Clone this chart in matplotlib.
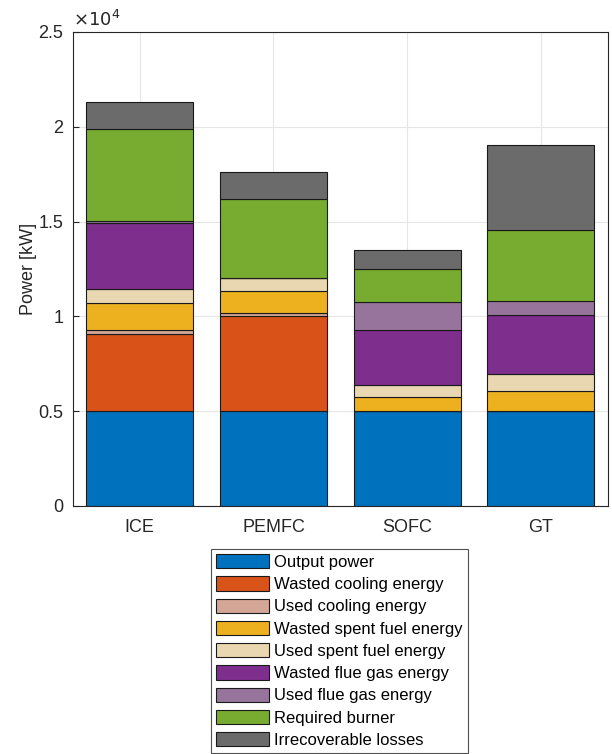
import matplotlib.pyplot as plt
import numpy as np

plt.rcParams['font.family'] = ['Liberation Sans', 'DejaVu Sans']

# categorias y valores [kW]
systems = ['ICE', 'PEMFC', 'SOFC', 'GT']
labels = ['Output power', 'Wasted cooling energy', 'Used cooling energy',
          'Wasted spent fuel energy', 'Used spent fuel energy',
          'Wasted flue gas energy', 'Used flue gas energy',
          'Required burner', 'Irrecoverable losses']

output_power = [5000, 5000, 5000, 5000]
wasted_cooling = [4050, 5040, 0, 0]
used_cooling = [230, 160, 0, 0]
wasted_spent_fuel = [1410, 1140, 750, 1070]
used_spent_fuel = [760, 670, 620, 880]
wasted_flue_gas = [3460, 0, 2900, 3110]
used_flue_gas = [140, 0, 1490, 750]
required_burner = [4830, 4170, 1720, 3750]
irrecoverable = [1440, 1420, 1020, 4480]

colors = ['#0072BD', '#D95319', '#D4A696', '#EDB120', '#E8D7B0',
          '#7E2F8E', '#97749C', '#77AC30', '#6B6B6B']

series = [output_power, wasted_cooling, used_cooling, wasted_spent_fuel,
          used_spent_fuel, wasted_flue_gas, used_flue_gas, required_burner,
          irrecoverable]

fig = plt.figure(figsize=(6.12, 7.54), dpi=100)
ax = fig.add_axes([73/612, 1 - 506/754, (607.5 - 73)/612, (506 - 32)/754])

x = np.arange(1, len(systems) + 1)
bottom = np.zeros(len(systems))
handles = []
for vals, lab, col in zip(series, labels, colors):
    vals = np.array(vals, dtype=float)
    h = ax.bar(x, vals, 0.8, bottom=bottom, color=col, edgecolor='#1a1a1a',
               linewidth=0.8, label=lab, zorder=3)
    handles.append(h)
    bottom += vals

ax.set_xlim(0.5, 4.5)
ax.set_ylim(0, 25000)
ax.set_xticks(x)
ax.set_xticklabels(systems)
ax.set_yticks([0, 5000, 10000, 15000, 20000, 25000])
ax.set_yticklabels(['0', '0.5', '1', '1.5', '2', '2.5'])
ax.text(0, 1.004, r'$\times 10^4$', transform=ax.transAxes, fontsize=13,
        color='#262626', va='bottom', ha='left')
ax.set_ylabel('Power [kW]', fontsize=13, color='#262626', labelpad=1)

ax.grid(True, color='#e6e6e6', linewidth=0.8, zorder=0)
ax.tick_params(direction='in', labelsize=13, colors='#262626', length=4,
               top=False, right=False)
ax.tick_params(axis='x', pad=9)
ax.tick_params(axis='y', pad=7)
for sp in ax.spines.values():
    sp.set_color('#262626')
    sp.set_linewidth(0.8)
    sp.set_zorder(4)

leg = fig.legend(handles, labels, loc='upper center',
                 bbox_to_anchor=(339.5/612, 1 - 549/754), fontsize=12,
                 frameon=True, fancybox=False, edgecolor='#262626',
                 handlelength=3.2, handleheight=0.95, handletextpad=0.3,
                 labelspacing=0.38, borderpad=0.3, borderaxespad=0)
leg.get_frame().set_linewidth(0.8)

fig.savefig('out.png', dpi=100)
